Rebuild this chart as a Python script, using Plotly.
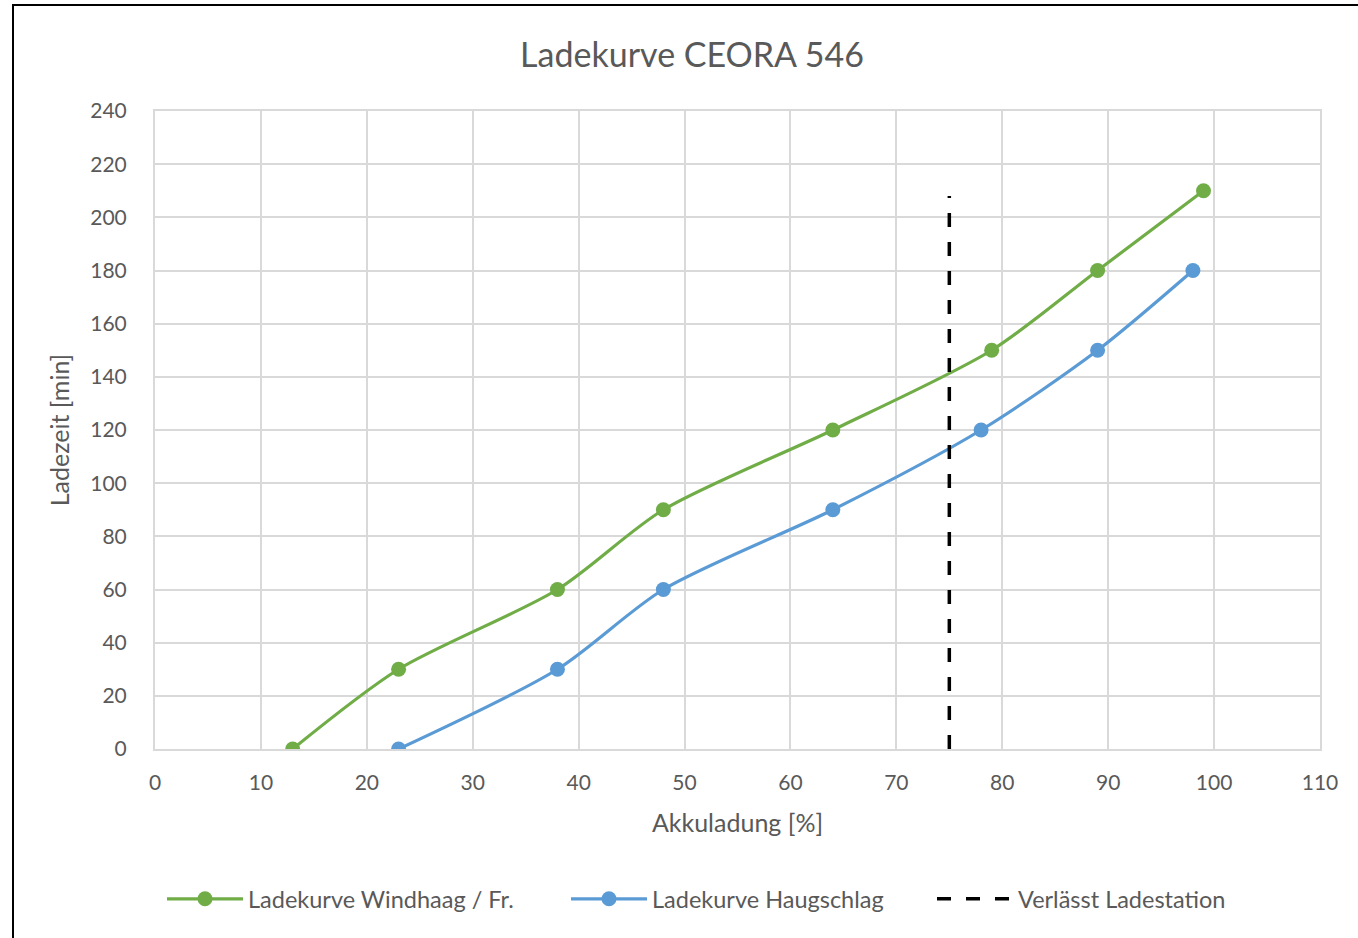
import plotly.graph_objects as go

x_windhaag = [13, 23, 38, 48, 64, 79, 89, 99]
y_windhaag = [0, 30, 60, 90, 120, 150, 180, 210]
x_haugschlag = [23, 38, 48, 64, 78, 89, 98]
y_haugschlag = [0, 30, 60, 90, 120, 150, 180]
x_station = [75, 75]
y_station = [0, 208]

FONT = "Lato"
GREY = "#595959"

L, R, T, B = 155, 1320, 111, 749
W, H = 1358, 938
PW, PH = R - L, B - T

def px_x(px):
    return (px - L) / PW

def px_y(py):
    return (B - py) / PH

fig = go.Figure()
fig.add_trace(go.Scatter(
    x=x_windhaag, y=y_windhaag, name="Ladekurve Windhaag / Fr.", legend="legend",
    mode="lines+markers", line=dict(color="#70ad47", width=3.2, shape="spline", smoothing=0.8),
    marker=dict(size=15, color="#70ad47")))
fig.add_trace(go.Scatter(
    x=x_haugschlag, y=y_haugschlag, name="Ladekurve Haugschlag", legend="legend2",
    mode="lines+markers", line=dict(color="#5b9bd5", width=3.2, shape="spline", smoothing=0.8),
    marker=dict(size=15, color="#5b9bd5")))
fig.add_trace(go.Scatter(
    x=x_station, y=y_station, name="Verlässt Ladestation", legend="legend3",
    mode="lines", line=dict(color="black", width=3.5, dash="14px,15px")))

leg_common = dict(orientation="h", xanchor="left", yanchor="middle", y=px_y(899),
                  font=dict(size=23.5, color=GREY), itemwidth=76, bgcolor="rgba(0,0,0,0)")

fig.update_layout(
    width=W, height=H,
    margin=dict(l=L, r=W - R, t=T, b=H - B),
    paper_bgcolor="white", plot_bgcolor="white",
    font=dict(family=FONT, color=GREY, size=21),
    title=dict(text="Ladekurve CEORA 546", x=692 / W, xanchor="center",
               y=1 - 55 / H, yanchor="middle", font=dict(size=34, color=GREY)),
    showlegend=True,
    legend=dict(x=px_x(162), **leg_common),
    legend2=dict(x=px_x(566), **leg_common),
    legend3=dict(x=px_x(932), **leg_common),
    xaxis=dict(range=[0, 110], dtick=10, tick0=0, showgrid=True, gridcolor="#d9d9d9", gridwidth=2,
               zeroline=False, showline=True, linecolor="#d9d9d9", linewidth=2, mirror=True,
               ticks="", tickfont=dict(size=21, color=GREY), ticklabelstandoff=14,
               title=dict(text="Akkuladung [%]", font=dict(size=25, color=GREY), standoff=21)),
    yaxis=dict(range=[0, 240], dtick=20, tick0=0, showgrid=True, gridcolor="#d9d9d9", gridwidth=2,
               zeroline=False, showline=True, linecolor="#d9d9d9", linewidth=2, mirror=True,
               ticks="", tickfont=dict(size=21, color=GREY), ticklabelstandoff=22,
               title=dict(text="Ladezeit [min]", font=dict(size=25, color=GREY), standoff=14)),
)
fig.add_shape(type="rect", xref="paper", yref="paper",
              x0=px_x(13), x1=px_x(W + 20),
              y0=px_y(H + 20), y1=px_y(5),
              line=dict(color="black", width=2), layer="below")

fig.write_html("out.html", config={"displayModeBar": False},
               post_script="document.body.style.margin='0';")
